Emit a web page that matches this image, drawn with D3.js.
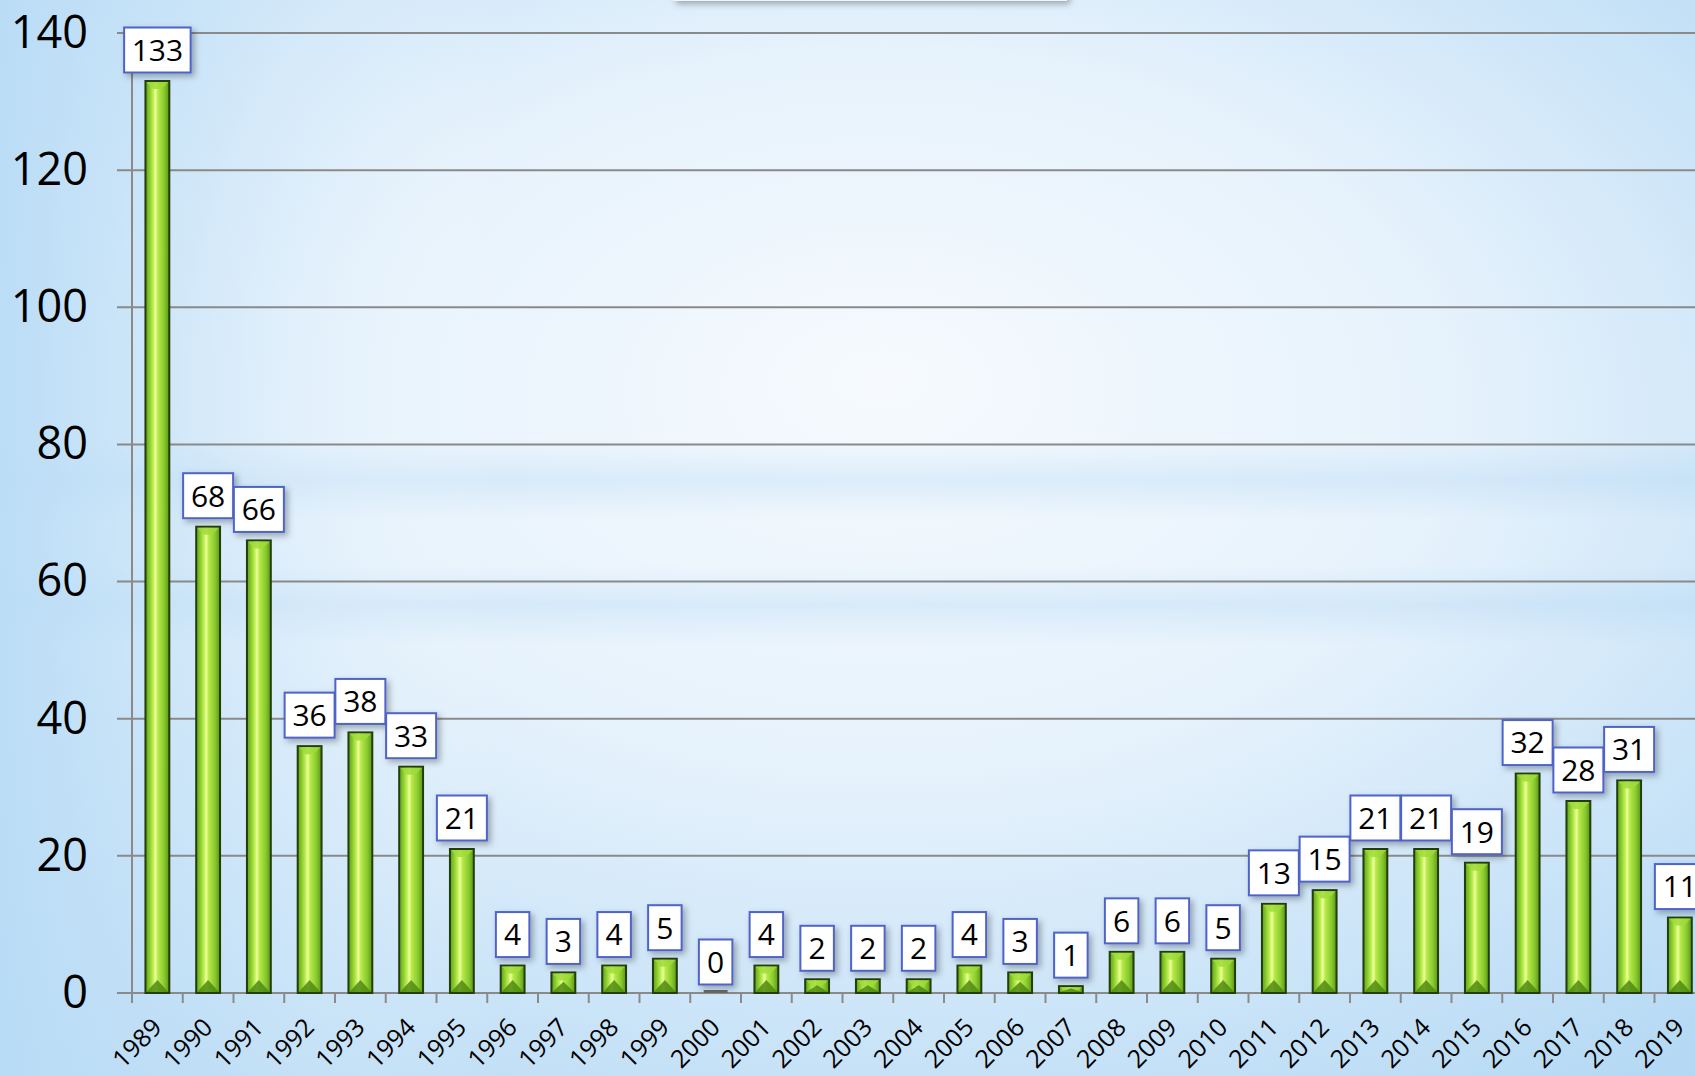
<!DOCTYPE html>
<html>
<head>
<meta charset="utf-8">
<script src="https://cdn.jsdelivr.net/npm/d3@7"></script>
<style>
  html, body { margin: 0; padding: 0; overflow: hidden; }
  body { width: 1695px; height: 1076px; }
  text { font-family: "Open Sans", "Liberation Sans", sans-serif; }
</style>
</head>
<body>
<div id="chart"></div>
<script>
// chart values
var years = ["1989","1990","1991","1992","1993","1994","1995","1996","1997","1998",
  "1999","2000","2001","2002","2003","2004","2005","2006","2007","2008",
  "2009","2010","2011","2012","2013","2014","2015","2016","2017","2018","2019"];
var counts = [133, 68, 66, 36, 38, 33, 21, 4, 3, 4,
  5, 0, 4, 2, 2, 2, 4, 3, 1, 6,
  6, 5, 13, 15, 21, 21, 19, 32, 28, 31, 11];
var yTicks = [0, 20, 40, 60, 80, 100, 120, 140];

var svgWidth = 1695;
var svgHeight = 1076;

// plot area (right side runs past the window, as in the original)
var margin = { top: 33, left: 132 };
var height = 960;
var width = 31 * 50.75;

var svg = d3.select("#chart")
  .append("svg")
  .attr("width", svgWidth)
  .attr("height", svgHeight);

var defs = svg.append("defs");

// background gradients
var bg = defs.append("radialGradient")
  .attr("id", "bg")
  .attr("cx", "52%").attr("cy", "42%").attr("r", "75%")
  .attr("fx", "52%").attr("fy", "35%");
bg.append("stop").attr("offset", "0%").attr("stop-color", "#f6fafe");
bg.append("stop").attr("offset", "45%").attr("stop-color", "#e6f2fc");
bg.append("stop").attr("offset", "100%").attr("stop-color", "#b3d8f4");

var bgLeft = defs.append("linearGradient")
  .attr("id", "bgLeft").attr("x1", "0").attr("x2", "1").attr("y1", "0").attr("y2", "0");
bgLeft.append("stop").attr("offset", "0%").attr("stop-color", "#b9dcf6").attr("stop-opacity", 0.9);
bgLeft.append("stop").attr("offset", "12%").attr("stop-color", "#c9e4f8").attr("stop-opacity", 0.4);
bgLeft.append("stop").attr("offset", "30%").attr("stop-color", "#ffffff").attr("stop-opacity", 0);

var bgBand = defs.append("linearGradient")
  .attr("id", "bgBand").attr("x1", "0").attr("x2", "0").attr("y1", "0").attr("y2", "1");
bgBand.append("stop").attr("offset", "0%").attr("stop-color", "#a9d2f2").attr("stop-opacity", 0);
bgBand.append("stop").attr("offset", "50%").attr("stop-color", "#a9d2f2").attr("stop-opacity", 0.3);
bgBand.append("stop").attr("offset", "100%").attr("stop-color", "#a9d2f2").attr("stop-opacity", 0);

// bar fill
var barGrad = defs.append("linearGradient")
  .attr("id", "barGrad").attr("x1", "0").attr("x2", "1").attr("y1", "0").attr("y2", "0");
barGrad.append("stop").attr("offset", "0%").attr("stop-color", "#5f9e1c");
barGrad.append("stop").attr("offset", "18%").attr("stop-color", "#8cce2e");
barGrad.append("stop").attr("offset", "34%").attr("stop-color", "#c4f25a");
barGrad.append("stop").attr("offset", "42%").attr("stop-color", "#f0ff9e");
barGrad.append("stop").attr("offset", "52%").attr("stop-color", "#b8ea4c");
barGrad.append("stop").attr("offset", "80%").attr("stop-color", "#86c82c");
barGrad.append("stop").attr("offset", "100%").attr("stop-color", "#5a9418");

var shadow = defs.append("filter").attr("id", "shadow")
  .attr("x", "-30%").attr("y", "-30%").attr("width", "170%").attr("height", "170%");
shadow.append("feDropShadow")
  .attr("dx", 3).attr("dy", 3).attr("stdDeviation", 3)
  .attr("flood-color", "#000").attr("flood-opacity", 0.3);

svg.append("rect").attr("width", svgWidth).attr("height", svgHeight).attr("fill", "url(#bg)");
svg.append("rect").attr("y", 440).attr("width", svgWidth).attr("height", 80).attr("fill", "url(#bgBand)");
svg.append("rect").attr("y", 565).attr("width", svgWidth).attr("height", 80).attr("fill", "url(#bgBand)");
svg.append("rect").attr("width", svgWidth).attr("height", svgHeight).attr("fill", "url(#bgLeft)");

// title box peeking in at the top
svg.append("rect")
  .attr("x", 673).attr("y", -40).attr("width", 394).attr("height", 41)
  .attr("fill", "#eef6fd")
  .attr("filter", "url(#shadow)");

var chartGroup = svg.append("g")
  .attr("transform", `translate(${margin.left}, ${margin.top})`);

// scales
var xBandScale = d3.scaleBand()
  .domain(years)
  .range([0, width])
  .paddingInner(0.53)
  .paddingOuter(0.265);

var yLinearScale = d3.scaleLinear()
  .domain([0, 140])
  .range([height, 0]);

// gridlines
chartGroup.append("g")
  .selectAll("line")
  .data(yTicks)
  .enter()
  .append("line")
  .attr("x1", -15)
  .attr("x2", svgWidth)
  .attr("y1", d => yLinearScale(d))
  .attr("y2", d => yLinearScale(d))
  .attr("stroke", "#8a8a8a")
  .attr("stroke-width", 2);

// y axis line
chartGroup.append("line")
  .attr("x1", 0).attr("x2", 0)
  .attr("y1", 0).attr("y2", height)
  .attr("stroke", "#8a8a8a")
  .attr("stroke-width", 2);

// x axis ticks at band edges
var step = xBandScale.step();
chartGroup.append("g")
  .selectAll("line")
  .data(years)
  .enter()
  .append("line")
  .attr("x1", (d, i) => i * step)
  .attr("x2", (d, i) => i * step)
  .attr("y1", height)
  .attr("y2", height + 10)
  .attr("stroke", "#8a8a8a")
  .attr("stroke-width", 2);

// y tick labels
var leftAxis = d3.axisLeft(yLinearScale).tickValues(yTicks).tickSize(0).tickPadding(44);
var yAxis = chartGroup.append("g").call(leftAxis);
yAxis.select(".domain").remove();
yAxis.selectAll("text")
  .attr("font-size", "45px")
  .attr("fill", "#000")
  .style("font-family", "'Open Sans', sans-serif");

// x tick labels, rotated
chartGroup.append("g")
  .selectAll("text")
  .data(years)
  .enter()
  .append("text")
  .attr("transform", d => `translate(${xBandScale(d) + xBandScale.bandwidth() / 2 + 6}, ${height + 36}) rotate(-45)`)
  .attr("text-anchor", "end")
  .attr("font-size", "25px")
  .attr("fill", "#000")
  .text(d => d);

// bars
var barW = xBandScale.bandwidth();
var bars = chartGroup.selectAll(".bar")
  .data(counts)
  .enter()
  .append("g")
  .attr("class", "bar")
  .attr("transform", (d, i) => `translate(${xBandScale(years[i])}, 0)`);

bars.filter(d => d > 0)
  .append("rect")
  .attr("x", 0)
  .attr("y", d => yLinearScale(d))
  .attr("width", barW)
  .attr("height", d => height - yLinearScale(d))
  .attr("fill", "url(#barGrad)")
  .attr("stroke", "#233d0c")
  .attr("stroke-width", 2);

// bevels at top and bottom of each bar
bars.filter(d => d > 0)
  .append("path")
  .attr("d", function(d) {
    var top = yLinearScale(d);
    var b = Math.min(7, (height - top) / 2);
    return `M1,${top + 1} L${barW - 1},${top + 1} L${barW - 1 - b},${top + 1 + b} L${1 + b},${top + 1 + b} Z`;
  })
  .attr("fill", "#9fdc3a")
  .attr("opacity", 0.85);

bars.filter(d => d > 0)
  .append("path")
  .attr("d", function(d) {
    var top = yLinearScale(d);
    var b = Math.min(12, (height - top) / 2);
    return `M1,${height - 1} L${barW / 2},${height - 1 - b} L${barW - 1},${height - 1} Z`;
  })
  .attr("fill", "#4f8a12")
  .attr("opacity", 0.85);

// zero bar drawn as a flat line
bars.filter(d => d === 0)
  .append("rect")
  .attr("x", 0)
  .attr("y", height - 3)
  .attr("width", barW)
  .attr("height", 3)
  .attr("fill", "#6a6a6a");

// value labels
var labels = bars.append("g")
  .attr("transform", d => `translate(${barW / 2}, ${yLinearScale(d) - 31})`);

labels.each(function(d) {
  var g = d3.select(this);
  var tw = String(d).length * 16.5;
  g.append("rect")
    .attr("x", -(tw + 17) / 2)
    .attr("y", -22.5)
    .attr("width", tw + 17)
    .attr("height", 45)
    .attr("fill", "#fff")
    .attr("stroke", "#4f63c9")
    .attr("stroke-width", 2)
    .attr("filter", "url(#shadow)");
  g.append("text")
    .attr("text-anchor", "middle")
    .attr("dy", "0.36em")
    .attr("font-size", "30px")
    .attr("fill", "#000")
    .text(d);
});
</script>
</body>
</html>
